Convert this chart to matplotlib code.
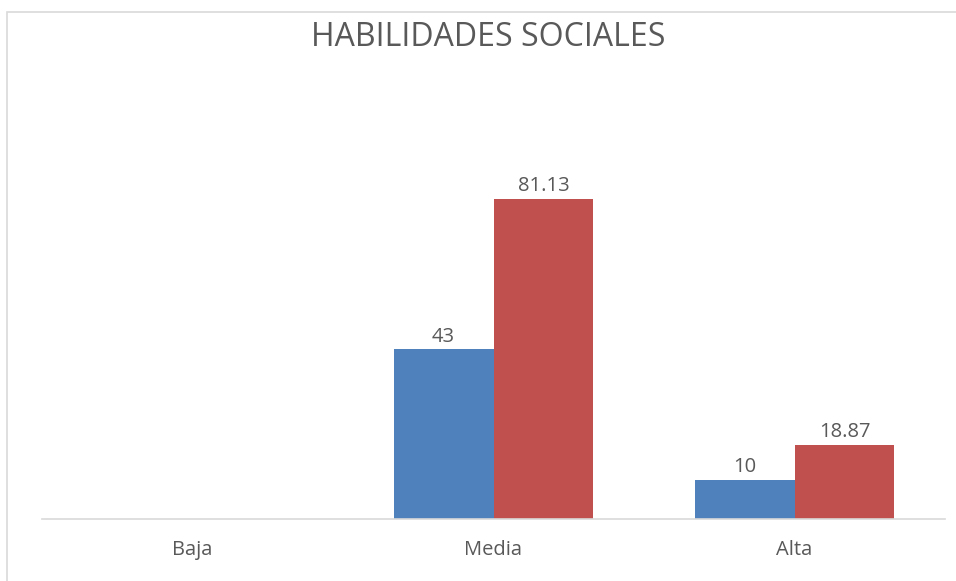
import numpy as np
import matplotlib
matplotlib.use("Agg")
import matplotlib.pyplot as plt
from matplotlib.patches import Rectangle

categories = ["Baja", "Media", "Alta"]
serie_1 = [np.nan, 43, 10]
serie_2 = [np.nan, 81.13, 18.87]
labels_1 = ["", "43", "10"]
labels_2 = ["", "81.13", "18.87"]

BLUE = "#4F81BD"
RED = "#C0504D"
TEXT = "#595959"
GRID = "#D9D9D9"

plt.rcParams["font.family"] = ["Open Sans", "DejaVu Sans"]

fig = plt.figure(figsize=(9.56, 5.81), dpi=100)
ax = fig.add_axes([42 / 956, 62 / 581, 903 / 956, 394.4 / 581])

x = np.arange(len(categories))
w = 0.332
b1 = ax.bar(x - w / 2, serie_1, w, color=BLUE)
b2 = ax.bar(x + w / 2, serie_2, w, color=RED)
ax.bar_label(b1, labels=labels_1, padding=2, fontsize=14.5, color=TEXT)
ax.bar_label(b2, labels=labels_2, padding=2, fontsize=14.5, color=TEXT)

ax.set_xlim(-0.5, 2.5)
ax.set_ylim(0, 100)
ax.set_xticks(x)
ax.set_xticklabels(categories, fontsize=14.5, color=TEXT)
ax.tick_params(axis="x", length=0, pad=15)
ax.set_yticks([])
for side in ["top", "right", "left"]:
    ax.spines[side].set_visible(False)
ax.spines["bottom"].set_color(GRID)
ax.spines["bottom"].set_linewidth(1.2)

fig.text(488 / 956, 1 - 37 / 581, "HABILIDADES SOCIALES", ha="center",
         va="center", fontsize=23, color=TEXT)

# chart area border (cut off by the screenshot at right and bottom)
fig.patches.append(Rectangle((7 / 956, -0.1), 1.2, 1 - 12 / 581 + 0.1,
                             transform=fig.transFigure, fill=False,
                             edgecolor=GRID, linewidth=1.2))

fig.savefig("out.png", dpi=100, facecolor="white")
